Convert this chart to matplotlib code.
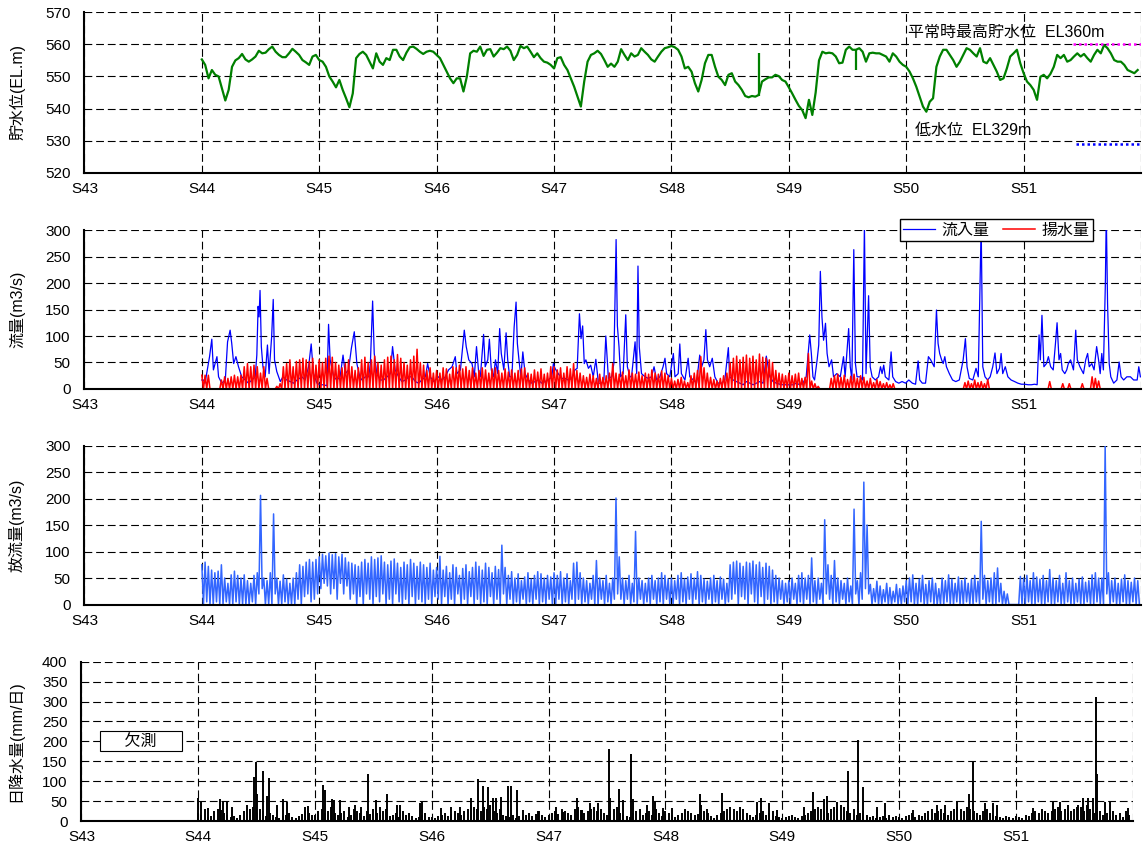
import matplotlib
matplotlib.use("Agg")
import matplotlib.pyplot as plt
import numpy as np

plt.rcParams['font.family'] = ['Liberation Sans', 'Noto Sans CJK JP']
plt.rcParams['font.size'] = 11

# --- axis / calendar ---
YEAR_LABELS = ["S43", "S44", "S45", "S46", "S47", "S48", "S49", "S50", "S51"]
YEAR_DAYS = 365
N_YEARS = 9
FIRST_YEAR = 1          # data starts at S44
BIN = YEAR_DAYS / 36    # 10-day bins used for the dense series

# --- reservoir level (EL.m), 35 samples per year S44..S51 ---
LEVEL = [
    555.3, 553.6, 549.4, 552, 550.5, 550, 546.3, 542.5, 545.8, 553, 555, 555.7, 557, 555.3, 554.6, 555.3, 556.2, 558,
    557.2, 557.4, 558.5, 559.3, 557.7, 556.7, 556, 556, 557.2, 558.6, 557.7, 556.7, 555.1, 554.4, 553.6, 556.2, 556.7,
    555.1, 554.6, 553, 550, 548.4, 546.6, 548.9, 545.8, 543.2, 540.4, 544.7, 555.7, 557, 557.7, 556.7, 554.6, 552.5,
    557.2, 554.6, 553.6, 555.7, 555.1, 558.3, 558.3, 556.2, 555.1, 557.4, 559.1, 559.3, 558.6, 557.7, 557, 557.7, 558, 557.7,
    556.7, 555.7, 553.6, 551.5, 549.4, 547.9, 549.4, 549.4, 545.3, 549.9, 557.2, 558, 557.7, 559.3, 556.4, 558.3, 558.5,
    556.2, 557.4, 558.8, 558.5, 559.3, 558, 555.1, 556.7, 559.5, 558.8, 559.3, 557.7, 556, 557.2, 555.7, 554.6, 554.3, 553.6,
    552.5, 555.7, 556, 553.6, 552, 549.4, 546.8, 543.7, 540.6, 548.4, 554.6, 556.7, 557.2, 558, 557, 555.1, 553, 554,
    553, 554.6, 558.5, 556.7, 555.1, 557.2, 556.2, 556.7, 558.8, 557.7, 556.7, 555.3, 554.6, 556.2, 557.7, 558.8, 559.1,
    559.5, 559.1, 558.3, 556.2, 552.5, 553, 551.5, 547.9, 545.3, 548.9, 554.1, 556.7, 556.7, 553, 549.9, 548.9, 547.3,
    550.5, 551, 548.4, 547.3, 545.8, 543.9, 543.5, 543.9, 543.7, 544.2, 548.4, 549.1, 549.7, 549.7, 550.5, 550.1, 548.9, 548.4,
    546.6, 544.7, 542.7, 540.8, 539.5, 537, 542.7, 538, 545, 555, 557.7, 557.2, 557.4, 557.2, 556.2, 554.1, 554.3,
    558.3, 559.3, 558.3, 558.3, 558.8, 557.7, 554.6, 557.2, 557.4, 557.2, 557.2, 556.7, 556.2, 554.6, 557.2, 556.2, 554.6, 553.6,
    553, 551.5, 549.4, 546.8, 543.7, 540.6, 539, 542.1, 543.2, 553, 556.2, 558.3, 558.3, 556.7, 555.1, 553, 554.6,
    556.7, 558.8, 558.3, 557.2, 556.2, 558.8, 554.6, 554.1, 555.7, 553.6, 551.5, 548.9, 549.4, 552.5, 556.2, 557.2, 558.3, 554.1,
    551, 548.4, 547.3, 545.8, 542.7, 549.9, 550.5, 549.4, 550.8, 553, 556.7, 555.7, 556.7, 554.6, 555.1, 556.2, 557.2,
    556.2, 557, 555.7, 554.6, 556.7, 558.3, 557.2, 559.8, 558.8, 557.2, 555.1, 554.6, 554.6, 553.6, 552, 551.5, 551, 552,
]
LEVEL_PER_YEAR = 35
LEVEL_SPIKE_DAY = [2098, 2398]
LEVEL_SPIKE_FROM = [543.8, 558.5]
LEVEL_SPIKE_TO = [557.3, 552.0]
NORMAL_HWL = 560
LOW_WL = 529
HWL_LINE_DAYS = [3073, 3285]
LWL_LINE_DAYS = [3084, 3285]

# --- inflow (m3/s), day counted from start of S43 ---
INFLOW_DAY = [
    365, 370, 375, 389, 396, 401, 412, 417, 427, 438, 445, 453, 458, 464, 471, 479, 489, 500, 510, 521,
    531, 536, 540, 543, 546, 550, 555, 562, 569, 574, 582, 587, 591, 598, 609, 617, 629, 640, 650, 661,
    676, 686, 697, 705, 712, 723,
    733, 744, 754, 759, 764, 775, 785, 795, 804, 811, 821, 830, 839, 847, 856, 863, 873, 884, 889, 896,
    901, 909, 920, 930, 941, 951, 958, 966, 977, 987, 998, 1008, 1018, 1029, 1039, 1049, 1060, 1067, 1075, 1086,
    1101, 1112, 1122, 1132, 1143, 1153, 1158, 1169, 1181, 1187, 1195, 1205, 1212, 1219, 1226, 1231, 1241, 1246,
    1254, 1259, 1265, 1272, 1278, 1285, 1291, 1296, 1304, 1311, 1316, 1322, 1329, 1336, 1342, 1346, 1351, 1357,
    1363, 1370, 1380, 1391, 1401, 1411, 1422, 1432, 1442, 1453, 1458,
    1463, 1473, 1484, 1494, 1504, 1515, 1525, 1532, 1539, 1544, 1549, 1554, 1559, 1567, 1574, 1582, 1590, 1598,
    1608, 1615, 1621, 1629, 1639, 1646, 1653, 1657, 1662, 1667, 1675, 1683, 1688, 1696, 1701, 1712, 1717, 1721,
    1725, 1732, 1743, 1753, 1763, 1771, 1779, 1789, 1799, 1805, 1810, 1820,
    1831, 1836, 1846, 1851, 1856, 1867, 1877, 1882, 1893, 1903, 1913, 1919, 1926, 1932, 1937, 1944, 1952, 1960,
    1970, 1981, 1991, 2002, 2006, 2017, 2027, 2038, 2048, 2058, 2069, 2079, 2089, 2100, 2110, 2120, 2131, 2141,
    2151, 2162, 2172, 2182,
    2193, 2203, 2213, 2224, 2234, 2244, 2255, 2260, 2265, 2270, 2278, 2283, 2288, 2293, 2298, 2304, 2309, 2315,
    2323, 2329, 2339, 2350, 2360, 2365, 2376, 2381, 2386, 2392, 2397, 2402, 2412, 2419, 2425, 2430, 2438, 2443,
    2449, 2459, 2469, 2475, 2480, 2485, 2490, 2501, 2508, 2513, 2522, 2532, 2542, 2553,
    2563, 2574, 2584, 2592, 2597, 2605, 2615, 2624, 2631, 2642, 2649, 2654, 2659, 2665, 2670, 2675, 2680, 2689,
    2699, 2709, 2720, 2727, 2732, 2739, 2744, 2751, 2762, 2772, 2779, 2788, 2793, 2800, 2808, 2816, 2824, 2831,
    2837, 2845, 2850, 2855, 2863, 2871, 2881, 2892, 2902, 2913,
    2923, 2934, 2944, 2954, 2962, 2968, 2972, 2977, 2983, 2991, 2997, 3004, 3012, 3019, 3024, 3030, 3035, 3040,
    3048, 3054, 3059, 3066, 3075, 3082, 3087, 3095, 3106, 3113, 3119, 3124, 3132, 3139, 3147, 3153, 3158, 3163,
    3168, 3174, 3177, 3181, 3186, 3191, 3200, 3210, 3217, 3223, 3231, 3241, 3252, 3262, 3273, 3278, 3283,
]
INFLOW_M3S = [
    17, 17, 11, 61, 94, 36, 61, 23, 11, 17, 89, 111, 86, 48, 61, 42, 23, 17, 11, 17,
    23, 64, 156, 136, 186, 80, 42, 23, 83, 29, 98, 169, 55, 33, 14, 23, 17, 14, 11, 17,
    23, 17, 42, 85, 29, 11,
    8, 8, 6, 122, 55, 23, 17, 23, 64, 29, 36, 77, 108, 48, 23, 17, 23, 23, 48, 166,
    67, 29, 17, 17, 23, 29, 80, 36, 23, 14, 17, 23, 23, 14, 11, 17, 23, 48, 23, 14,
    23, 17, 23, 36, 42, 61, 29, 36, 111, 80, 55, 48, 23, 80, 29, 23, 103, 42,
    55, 94, 36, 23, 55, 29, 114, 67, 36, 106, 55, 23, 23, 117, 164, 86, 55, 23,
    70, 29, 17, 11, 14, 17, 11, 14, 17, 23, 48,
    39, 29, 20, 20, 17, 20, 36, 39, 142, 95, 119, 48, 55, 39, 45, 23, 56, 11,
    11, 17, 100, 20, 23, 48, 282, 119, 80, 23, 29, 140, 42, 23, 23, 89, 29, 232,
    80, 29, 23, 20, 23, 42, 17, 23, 42, 58, 29, 23,
    67, 23, 29, 85, 29, 17, 58, 23, 17, 11, 64, 42, 55, 112, 55, 42, 58, 23,
    11, 11, 17, 78, 23, 17, 14, 11, 8, 14, 11, 8, 11, 14, 11, 62, 23, 14,
    11, 9, 8, 8,
    8, 8, 11, 8, 11, 23, 102, 67, 23, 17, 55, 83, 222, 136, 92, 124, 67, 42,
    55, 23, 29, 23, 61, 23, 114, 42, 17, 263, 48, 23, 23, 17, 310, 29, 176, 42,
    23, 17, 23, 42, 29, 45, 23, 17, 70, 23, 14, 11, 14, 11,
    17, 11, 9, 53, 17, 11, 11, 61, 55, 42, 149, 86, 67, 55, 48, 61, 42, 29,
    17, 14, 17, 39, 55, 95, 42, 20, 17, 39, 23, 310, 42, 23, 17, 23, 42, 68,
    29, 39, 67, 29, 42, 23, 17, 14, 11, 9,
    9, 8, 8, 9, 8, 102, 55, 139, 42, 48, 61, 42, 36, 86, 125, 55, 67, 36,
    29, 36, 48, 55, 36, 111, 55, 42, 29, 55, 67, 42, 48, 36, 80, 55, 29, 67,
    36, 196, 330, 161, 48, 23, 11, 17, 51, 23, 17, 23, 23, 17, 17, 42, 23,
]

# --- pumped water (m3/s): peak value in each 10-day bin, S44..S51 (daily minimum is 0) ---
PUMP_HI = [
    26, 26, 26, 0, 0, 0, 17, 23, 20, 23, 26, 23, 26, 42, 48, 42, 45, 42, 30, 42, 20, 0, 0, 5, 10, 42, 48, 55, 42, 52, 55, 58, 55, 52, 58, 45,
    55, 50, 58, 62, 60, 50, 45, 40, 48, 55, 42, 35, 40, 55, 60, 50, 55, 62, 50, 45, 55, 60, 62, 55, 65, 58, 50, 45, 55, 62, 75, 50, 45, 35, 40, 30,
    35, 30, 40, 38, 28, 42, 40, 45, 38, 42, 35, 40, 30, 35, 40, 36, 30, 38, 40, 35, 30, 38, 32, 36, 30, 35, 38, 40, 30, 28, 36, 32, 38, 28, 30, 42,
    42, 36, 40, 30, 42, 38, 48, 35, 30, 25, 22, 28, 25, 20, 28, 22, 25, 30, 48, 30, 28, 32, 25, 36, 30, 28, 32, 25, 30, 28, 36, 30, 28, 34, 30, 25,
    20, 15, 18, 22, 15, 12, 25, 30, 35, 61, 40, 30, 22, 18, 15, 20, 25, 30, 50, 58, 62, 55, 60, 64, 58, 62, 55, 66, 60, 58, 55, 50, 35, 30, 28, 25,
    30, 25, 28, 30, 20, 22, 67, 15, 10, 5, 0, 0, 0, 20, 25, 28, 22, 26, 18, 24, 28, 20, 25, 22, 15, 20, 12, 18, 14, 10, 12, 8, 10, 0, 0, 0,
    0, 0, 0, 0, 0, 0, 0, 0, 0, 0, 0, 0, 0, 0, 0, 0, 0, 0, 12, 15, 10, 17, 12, 14, 10, 18, 0, 0, 0, 0, 0, 0, 0, 0, 0, 0,
    0, 0, 0, 0, 0, 0, 0, 0, 14, 0, 0, 0, 10, 0, 10, 0, 0, 0, 10, 0, 0, 23, 20, 15, 0, 0, 0, 0, 0, 0, 0, 0, 0, 0, 0, 0,
]

# --- outflow (m3/s): max and min in each 10-day bin, S44..S51 ---
OUT_HI = [
    75, 80, 72, 65, 60, 63, 75, 50, 40, 56, 63, 55, 50, 56, 45, 40, 55, 60, 206, 50, 45, 60, 171, 50, 44, 56, 48, 40, 50, 60, 75, 72, 80, 85, 80, 85,
    90, 95, 92, 97, 94, 96, 90, 95, 88, 80, 78, 75, 72, 80, 85, 78, 90, 85, 88, 92, 80, 75, 82, 86, 78, 70, 80, 75, 85, 78, 72, 80, 75, 70, 78, 65,
    70, 91, 65, 72, 60, 75, 70, 55, 68, 75, 62, 70, 80, 72, 65, 78, 70, 60, 72, 66, 112, 70, 55, 62, 50, 58, 45, 52, 60, 48, 55, 62, 58, 50, 55, 52,
    60, 55, 62, 50, 58, 45, 78, 80, 60, 50, 45, 40, 55, 83, 50, 45, 55, 40, 50, 201, 90, 50, 45, 55, 40, 138, 50, 45, 40, 50, 55, 45, 50, 60, 55, 48,
    50, 45, 55, 60, 48, 52, 58, 50, 62, 55, 48, 44, 50, 55, 45, 52, 48, 40, 75, 80, 82, 78, 72, 80, 78, 82, 75, 80, 70, 78, 72, 65, 55, 50, 45, 40,
    45, 50, 40, 55, 60, 50, 55, 88, 45, 50, 40, 160, 75, 55, 83, 50, 45, 40, 50, 35, 180, 45, 60, 231, 150, 38, 30, 44, 35, 28, 40, 32, 25, 38, 30, 35,
    45, 50, 56, 40, 48, 55, 38, 45, 50, 40, 30, 50, 45, 56, 48, 40, 52, 45, 50, 40, 48, 55, 44, 157, 55, 45, 50, 60, 69, 40, 25, 20, 0, 0, 0, 53,
    50, 55, 45, 60, 52, 48, 55, 45, 66, 50, 45, 55, 40, 60, 45, 50, 40, 48, 52, 42, 45, 56, 60, 50, 50, 300, 60, 45, 50, 40, 48, 56, 45, 42, 50, 45,
]
OUT_LO = [
    0, 5, 0, 0, 5, 0, 0, 5, 0, 0, 5, 0, 0, 0, 0, 5, 0, 20, 30, 0, 0, 0, 20, 0, 0, 5, 0, 0, 0, 10, 0, 15, 20, 5, 10, 20,
    30, 40, 35, 20, 30, 10, 40, 20, 35, 10, 20, 0, 15, 0, 20, 10, 0, 15, 5, 20, 0, 10, 0, 20, 5, 0, 10, 0, 15, 0, 10, 5, 0, 10, 0, 15,
    10, 0, 15, 0, 10, 0, 20, 0, 10, 0, 15, 0, 10, 0, 5, 0, 15, 0, 10, 0, 20, 0, 10, 0, 5, 0, 10, 0, 5, 0, 10, 0, 5, 0, 10, 0,
    0, 10, 0, 5, 0, 10, 0, 10, 0, 5, 0, 10, 0, 0, 10, 0, 5, 0, 10, 20, 10, 0, 10, 0, 5, 0, 10, 0, 5, 0, 10, 0, 5, 0, 10, 0,
    0, 10, 0, 5, 0, 10, 0, 10, 0, 5, 0, 10, 0, 5, 0, 10, 0, 5, 10, 20, 0, 15, 10, 0, 20, 5, 0, 15, 0, 10, 0, 5, 0, 10, 0, 5,
    0, 10, 0, 5, 0, 10, 0, 5, 0, 10, 0, 20, 10, 0, 5, 0, 10, 0, 5, 0, 20, 0, 10, 30, 20, 0, 5, 0, 0, 5, 0, 0, 5, 0, 0, 5,
    0, 5, 0, 0, 5, 0, 0, 5, 0, 0, 0, 0, 5, 0, 0, 5, 0, 0, 5, 0, 0, 5, 0, 10, 0, 5, 0, 0, 5, 0, 0, 0, 0, 0, 0, 0,
    0, 5, 0, 0, 5, 0, 0, 5, 0, 0, 5, 0, 0, 5, 0, 0, 5, 0, 0, 5, 0, 0, 5, 0, 0, 20, 0, 5, 0, 0, 5, 0, 0, 5, 0, 0,
]

# --- daily rainfall (mm/day): typical value per 10-day bin + individual heavy days ---
RAIN_BASE = [
    20, 15, 30, 10, 12, 25, 30, 28, 20, 15, 10, 12, 8, 15, 25, 40, 30, 35, 20, 30, 25, 12, 20, 15, 10, 8, 12, 15, 20, 10, 8, 12, 18, 25, 20, 15,
    15, 25, 30, 20, 25, 35, 20, 15, 20, 25, 10, 15, 30, 25, 20, 12, 25, 18, 30, 20, 15, 25, 30, 12, 15, 20, 10, 25, 15, 20, 12, 8, 10, 15, 20, 10,
    10, 8, 12, 15, 20, 12, 18, 25, 20, 15, 25, 30, 40, 35, 30, 25, 35, 30, 40, 25, 20, 30, 15, 12, 10, 15, 8, 12, 10, 15, 20, 12, 18, 25, 15, 10,
    15, 20, 25, 18, 30, 25, 20, 15, 30, 35, 28, 20, 25, 30, 35, 25, 30, 20, 15, 25, 30, 35, 20, 15, 12, 10, 20, 25, 30, 15, 20, 25, 15, 30, 20, 12,
    25, 20, 15, 10, 15, 20, 30, 25, 20, 15, 18, 30, 25, 20, 12, 8, 15, 20, 25, 30, 35, 30, 25, 28, 30, 20, 15, 10, 15, 20, 25, 15, 20, 25, 12, 10,
    8, 10, 12, 15, 10, 8, 12, 15, 20, 25, 30, 35, 30, 25, 20, 30, 35, 30, 40, 35, 25, 20, 30, 15, 20, 25, 15, 10, 12, 8, 10, 12, 8, 15, 10, 12,
    10, 8, 12, 15, 20, 10, 15, 12, 20, 25, 30, 20, 25, 30, 20, 15, 25, 30, 35, 30, 25, 35, 30, 25, 20, 15, 25, 30, 20, 15, 12, 10, 8, 12, 10, 8,
    12, 10, 8, 15, 12, 20, 25, 20, 30, 25, 20, 25, 30, 35, 25, 30, 20, 25, 30, 40, 35, 25, 40, 30, 20, 35, 25, 15, 20, 12, 25, 15, 20, 10, 25, 15,
]
RAIN_PEAK_DAY = [
    365, 375, 396, 433, 443, 454, 469, 540, 545, 550, 568, 581, 585, 612, 631, 641, 698, 709, 755, 761,
    782, 789, 808, 837, 854, 875, 894, 922, 933, 955, 987, 995, 1058, 1065, 1125, 1156, 1183, 1217, 1240, 1255,
    1271, 1285, 1295, 1311, 1334, 1341, 1360, 1380, 1427, 1484, 1505, 1547, 1563, 1589, 1615, 1649, 1653, 1680, 1693, 1718,
    1722, 1766, 1787, 1792, 1818, 1846, 1932, 1936, 1955, 2002, 2059, 2111, 2125, 2148, 2174, 2257, 2286, 2319, 2330, 2361,
    2394, 2428, 2441, 2486, 2510, 2600, 2673, 2699, 2735, 2772, 2787, 2824, 2850, 2860, 2975, 3037, 3058, 3084, 3110, 3131,
    3146, 3162, 3170, 3174, 3198, 3214, 3271,
]
RAIN_PEAK_MM = [
    57, 48, 32, 55, 50, 48, 36, 111, 147, 69, 126, 64, 107, 40, 55, 48, 36, 38, 90, 78,
    55, 53, 53, 34, 40, 34, 118, 53, 36, 67, 40, 40, 44, 48, 32, 34, 36, 57, 105, 89,
    85, 59, 59, 61, 88, 88, 78, 28, 25, 36, 23, 59, 28, 44, 44, 180, 57, 80, 53, 167,
    54, 40, 63, 48, 32, 32, 67, 40, 30, 71, 36, 48, 57, 44, 28, 36, 72, 55, 64, 48,
    126, 203, 85, 36, 44, 28, 40, 40, 51, 67, 151, 44, 44, 40, 32, 51, 48, 40, 36, 57,
    57, 57, 311, 117, 48, 48, 32,
]
MISSING_LABEL_DAY = 186
MISSING_LABEL_MM = 200


def style_axis(ax, ymin, ymax, ystep):
    ax.set_xlim(0, N_YEARS * YEAR_DAYS)
    ax.set_ylim(ymin, ymax)
    ax.set_yticks(np.arange(ymin, ymax + 1, ystep))
    ax.set_xticks(np.arange(N_YEARS + 1) * YEAR_DAYS)
    ax.set_xticklabels(YEAR_LABELS + [""])
    ax.set_axisbelow(True)
    ax.grid(True, color="black", linestyle=(0, (7, 3.5)), linewidth=0.8)
    for s in ["top", "right"]:
        ax.spines[s].set_visible(False)
    for s in ["left", "bottom"]:
        ax.spines[s].set_linewidth(1.5)
    ax.tick_params(length=0, labelsize=11)
    ax.tick_params(axis="y", pad=10)
    ax.tick_params(axis="x", pad=6.5)


def zigzag(hi, lo):
    t = FIRST_YEAR * YEAR_DAYS + np.arange(len(hi)) * BIN
    x = np.column_stack([t, t + BIN / 2]).ravel()
    y = np.column_stack([hi, lo]).ravel()
    return x, y


fig = plt.figure(figsize=(11.44, 8.57), dpi=100)
ax1 = fig.add_axes([0.0738, 0.7985, 0.9236, 0.1872])
ax2 = fig.add_axes([0.0738, 0.5461, 0.9236, 0.1855])
ax3 = fig.add_axes([0.0738, 0.2946, 0.9236, 0.1855])
ax4 = fig.add_axes([0.0712, 0.0420, 0.9189, 0.1859])

# --- panel 1: reservoir level ---
style_axis(ax1, 520, 570, 10)
level_t = (FIRST_YEAR + np.arange(len(LEVEL)) / LEVEL_PER_YEAR) * YEAR_DAYS
ax1.plot(level_t, LEVEL, color="#008000", linewidth=1.6)
ax1.vlines(LEVEL_SPIKE_DAY, LEVEL_SPIKE_FROM, LEVEL_SPIKE_TO, color="#008000", linewidth=1.6)
ax1.plot(HWL_LINE_DAYS, [NORMAL_HWL] * 2, color="#FF00FF", linestyle=(0, (1, 1.2)), linewidth=1.8)
ax1.plot(LWL_LINE_DAYS, [LOW_WL] * 2, color="#0000FF", linestyle=(0, (1, 1.2)), linewidth=1.8)
ax1.text(2560, 563.6, "平常時最高貯水位  EL360m", va="center", ha="left", fontsize=11.5)
ax1.text(2581, 533, "低水位  EL329m", va="center", ha="left", fontsize=11.5)

# --- panel 2: inflow and pumped water ---
style_axis(ax2, 0, 300, 50)
ax2.plot(INFLOW_DAY, INFLOW_M3S, color="#0000FF", linewidth=0.9, label="流入量")
px, py = zigzag(PUMP_HI, np.zeros(len(PUMP_HI)))
ax2.plot(px, py, color="#FF0000", linewidth=1.1, label="揚水量")
ax2.legend(loc="center", bbox_to_anchor=(0.863, 1.0), ncol=2, frameon=True,
           fancybox=False, edgecolor="black", framealpha=1, handlelength=2.0,
           columnspacing=0.9, borderpad=0.2, handletextpad=0.4, fontsize=11.5)
ax2.get_legend().get_frame().set_linewidth(1.0)

# --- panel 3: outflow ---
style_axis(ax3, 0, 300, 50)
ox, oy = zigzag(OUT_HI, OUT_LO)
ax3.plot(ox, oy, color="#3366FF", linewidth=1.1)

# --- panel 4: daily rainfall ---
style_axis(ax4, 0, 400, 50)
rain_t = FIRST_YEAR * YEAR_DAYS + np.arange(len(RAIN_BASE)) * BIN
ax4.vlines(rain_t, 0, RAIN_BASE, color="black", linewidth=1.4)
ax4.vlines(RAIN_PEAK_DAY, 0, RAIN_PEAK_MM, color="black", linewidth=1.4)
ax4.text(MISSING_LABEL_DAY, MISSING_LABEL_MM, "     欠測     ", ha="center", va="center", fontsize=11.5,
         bbox=dict(boxstyle="square,pad=0.15", facecolor="white", edgecolor="black", linewidth=0.8))

# --- y labels ---
fig.text(0.0149, 0.7985 + 0.1872 / 2, "貯水位(EL.m)", rotation=90, ha="center", va="center", fontsize=11.5)
fig.text(0.0149, 0.5461 + 0.1855 / 2, "流量(m3/s)", rotation=90, ha="center", va="center", fontsize=11.5)
fig.text(0.0149, 0.2946 + 0.1855 / 2, "放流量(m3/s)", rotation=90, ha="center", va="center", fontsize=11.5)
fig.text(0.0131, 0.0420 + 0.1859 / 2, "日降水量(mm/日)", rotation=90, ha="center", va="center", fontsize=11.5)

fig.savefig("out.png", dpi=100)
